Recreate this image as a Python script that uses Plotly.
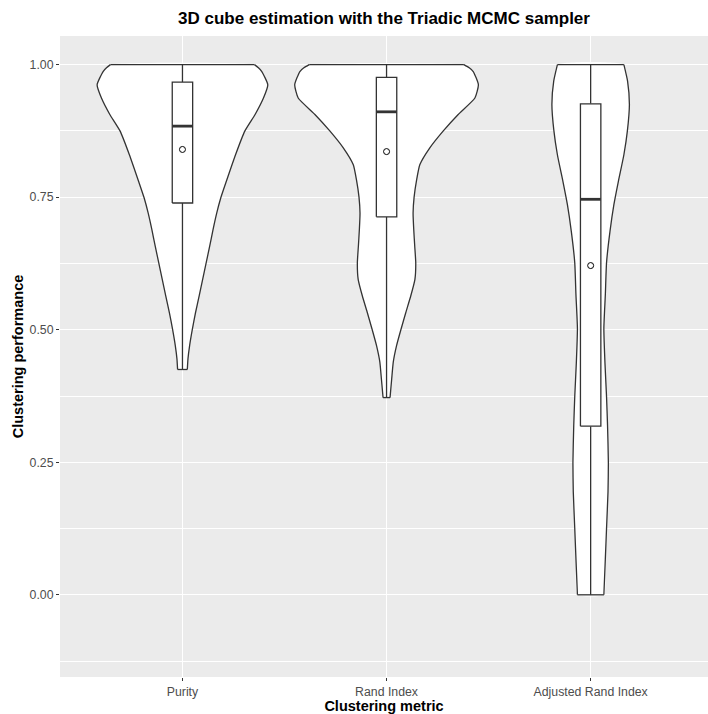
import plotly.graph_objects as go

# ---- data ----
categories = ["Purity", "Rand Index", "Adjusted Rand Index"]

# violin density profiles (y value, relative density; max violin width = 0.9)
purity_y = [1.000, 0.994, 0.987, 0.962, 0.937, 0.906, 0.875, 0.830, 0.780, 0.748, 0.720,
            0.689, 0.657, 0.626, 0.595, 0.564, 0.532, 0.500, 0.470, 0.445, 0.425]
purity_d = [0.784, 0.827, 0.864, 0.929, 0.882, 0.791, 0.680, 0.578, 0.478, 0.416, 0.373,
            0.333, 0.296, 0.258, 0.220, 0.182, 0.142, 0.107, 0.078, 0.060, 0.053]

rand_y = [1.000, 0.994, 0.987, 0.962, 0.937, 0.906, 0.875, 0.843, 0.811, 0.782, 0.750, 0.720,
          0.689, 0.657, 0.626, 0.595, 0.564, 0.532, 0.500, 0.470, 0.439, 0.407, 0.372]
rand_d = [0.842, 0.900, 0.944, 1.000, 0.962, 0.780, 0.618, 0.471, 0.362, 0.327, 0.300, 0.289,
          0.296, 0.307, 0.318, 0.309, 0.264, 0.209, 0.156, 0.109, 0.073, 0.056, 0.038]

ari_y = [1.000, 0.969, 0.925, 0.875, 0.830, 0.780, 0.736, 0.686, 0.626, 0.566, 0.503,
         0.437, 0.374, 0.320, 0.249, 0.194, 0.125, 0.068, 0.000]
ari_d = [0.362, 0.402, 0.422, 0.400, 0.362, 0.302, 0.253, 0.211, 0.173, 0.160, 0.144,
         0.156, 0.173, 0.184, 0.193, 0.189, 0.173, 0.160, 0.144]

# box statistics
box_min = [0.425, 0.372, 0.000]
box_q1 = [0.739, 0.713, 0.318]
box_median = [0.884, 0.911, 0.746]
box_q3 = [0.967, 0.976, 0.926]
box_max = [1.000, 1.000, 1.000]
means = [0.840, 0.836, 0.621]

y_ticks = [0.0, 0.25, 0.5, 0.75, 1.0]
y_ticklabels = ["0.00", "0.25", "0.50", "0.75", "1.00"]

# ---- styling ----
LINE = "#333333"
LW = 1.3
VIOLIN_HALF = 0.45
BOX_HALF = 0.05
FONT = "Liberation Sans, Arial, sans-serif"

fig = go.Figure()

profiles = [(purity_y, purity_d), (rand_y, rand_d), (ari_y, ari_d)]
for i, (ys, ds) in enumerate(profiles):
    pos = i + 1
    right_x = [pos + VIOLIN_HALF * d for d in ds]
    left_x = [pos - VIOLIN_HALF * d for d in ds]
    # white body
    xs = right_x[::-1] + left_x + [right_x[-1]]
    yy = ys[::-1] + ys + [ys[-1]]
    fig.add_trace(go.Scatter(
        x=xs, y=yy, mode="lines", fill="toself", fillcolor="white",
        line=dict(color="white", width=0, shape="spline", smoothing=0.5),
        hoverinfo="skip", showlegend=False))
    # outline: smooth sides, straight trimmed ends
    for side in (right_x, left_x):
        fig.add_trace(go.Scatter(
            x=side, y=ys, mode="lines",
            line=dict(color=LINE, width=LW, shape="spline", smoothing=0.5),
            hoverinfo="skip", showlegend=False))
    fig.add_trace(go.Scatter(
        x=[left_x[0], right_x[0], None, left_x[-1], right_x[-1]],
        y=[ys[0], ys[0], None, ys[-1], ys[-1]],
        mode="lines", line=dict(color=LINE, width=LW),
        hoverinfo="skip", showlegend=False))

for i in range(len(categories)):
    pos = i + 1
    # whiskers
    fig.add_trace(go.Scatter(
        x=[pos, pos, None, pos, pos],
        y=[box_q3[i], box_max[i], None, box_q1[i], box_min[i]],
        mode="lines", line=dict(color=LINE, width=LW),
        showlegend=False, hoverinfo="skip"))
    # box
    fig.add_trace(go.Scatter(
        x=[pos - BOX_HALF, pos + BOX_HALF, pos + BOX_HALF, pos - BOX_HALF, pos - BOX_HALF],
        y=[box_q1[i], box_q1[i], box_q3[i], box_q3[i], box_q1[i]],
        mode="lines", fill="toself", fillcolor="white",
        line=dict(color=LINE, width=LW),
        showlegend=False, hoverinfo="skip"))
    # median
    fig.add_trace(go.Scatter(
        x=[pos - BOX_HALF, pos + BOX_HALF], y=[box_median[i], box_median[i]],
        mode="lines", line=dict(color=LINE, width=2.8),
        showlegend=False, hoverinfo="skip"))

fig.add_trace(go.Scatter(
    x=[1, 2, 3], y=means, mode="markers",
    marker=dict(symbol="circle", size=6, color="white",
                line=dict(color="black", width=1)),
    showlegend=False, hoverinfo="skip"))

fig.update_layout(
    width=708, height=714,
    margin=dict(l=60, r=0, t=36, b=37),
    paper_bgcolor="white", plot_bgcolor="#EBEBEB",
    font=dict(family=FONT, color="#4D4D4D"),
    title=dict(text="3D cube estimation with the Triadic MCMC sampler",
               font=dict(family=FONT, size=17, color="black", weight="bold"),
               x=0.5, xref="paper", xanchor="center",
               y=0.975, yref="container", yanchor="middle"),
    xaxis=dict(
        range=[0.4, 3.575], tickmode="array", tickvals=[1, 2, 3], ticktext=categories,
        showgrid=True, gridcolor="white", gridwidth=1.1, zeroline=False,
        ticks="outside", ticklen=3, tickwidth=1, tickcolor=LINE,
        tickfont=dict(size=12.3, color="#4D4D4D"),
        title=dict(text="Clustering metric", standoff=2,
                   font=dict(size=14.5, color="black", weight="bold")),
    ),
    yaxis=dict(
        range=[-0.155, 1.054], tickmode="array", tickvals=y_ticks, ticktext=y_ticklabels,
        showgrid=True, gridcolor="white", gridwidth=1.1, zeroline=False,
        ticks="outside", ticklen=3, tickwidth=1, tickcolor=LINE,
        tickfont=dict(size=12.3, color="#4D4D4D"),
        minor=dict(tick0=-0.125, dtick=0.25, showgrid=True, gridcolor="white",
                   gridwidth=0.55, ticks=""),
        title=dict(text="Clustering performance", standoff=2,
                   font=dict(size=14.5, color="black", weight="bold")),
    ),
)

fig.write_html("out.html", config={"displayModeBar": False},
               post_script="document.body.style.margin='0px';document.body.style.overflow='hidden';")
